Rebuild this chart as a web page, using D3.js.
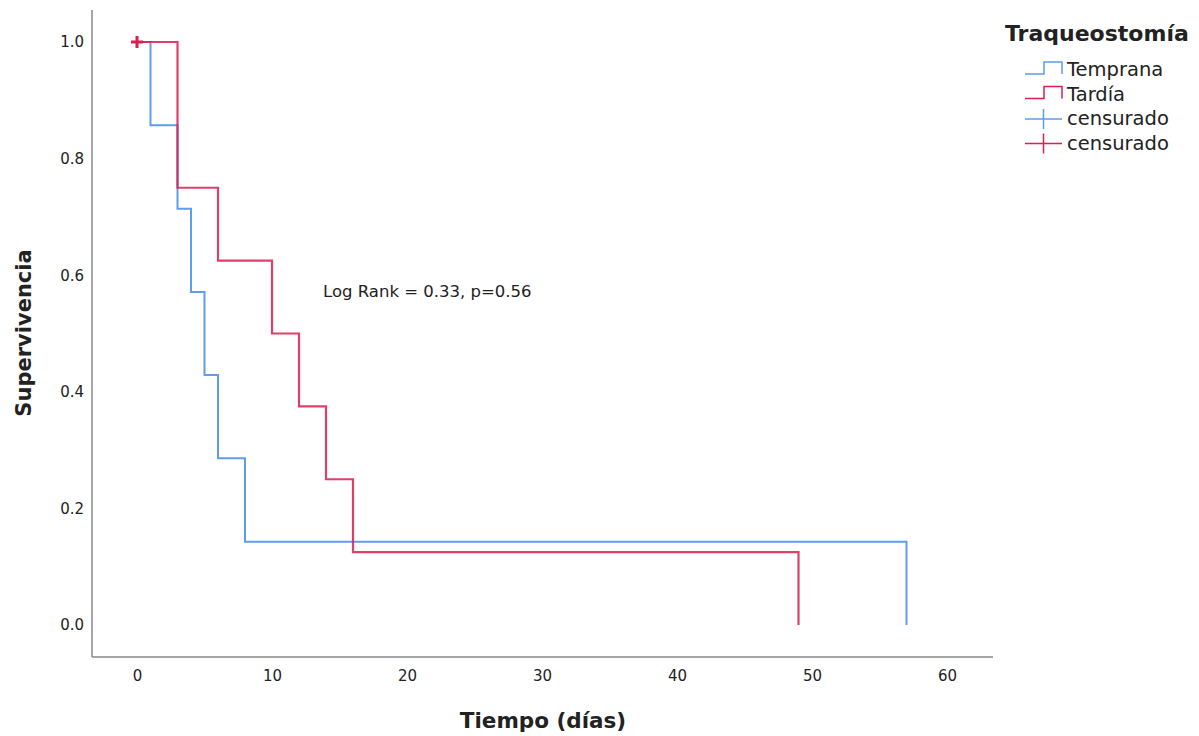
<!DOCTYPE html>
<html>
<head>
<meta charset="utf-8">
<script src="https://cdn.jsdelivr.net/npm/d3@7"></script>
<style>
  body { margin: 0; background: #fff; }
  text { font-family: "DejaVu Sans", sans-serif; fill: #222; }
</style>
</head>
<body>
<svg id="chart" width="1199" height="736"></svg>
<script>
// Kaplan-Meier steps (time in days, survival)
var tempranaTimes = [0, 1, 3, 4, 5, 6, 8, 57];
var tempranaSurv  = [1.0, 0.857, 0.714, 0.571, 0.429, 0.286, 0.143, 0.0];
var tardiaTimes = [0, 3, 6, 10, 12, 14, 16, 49];
var tardiaSurv  = [1.0, 0.75, 0.625, 0.5, 0.375, 0.25, 0.125, 0.0];
var tardiaCensored = [[0, 1.0]];
var xTicks = [0, 10, 20, 30, 40, 50, 60];
var yTicks = [0.0, 0.2, 0.4, 0.6, 0.8, 1.0];
var legendLabels = ["Temprana", "Tardía", "censurado", "censurado"];

var blue = "#5e9ded", red = "#d91f50";

const svg = d3.select("#chart");

const x = d3.scaleLinear().domain([0, 60]).range([137, 947]);
const y = d3.scaleLinear().domain([0, 1]).range([625, 42]);

// frame lines (left & bottom)
svg.append("line").attr("x1", 92).attr("x2", 92).attr("y1", 10).attr("y2", 657)
   .attr("stroke", "#888").attr("stroke-width", 1.5);
svg.append("line").attr("x1", 92).attr("x2", 993).attr("y1", 657).attr("y2", 657)
   .attr("stroke", "#888").attr("stroke-width", 1.5);

// axes without tick marks
const xAxis = d3.axisBottom(x).tickValues(xTicks).tickSize(0).tickPadding(13)
                .tickFormat(d3.format("d"));
const gx = svg.append("g").attr("transform", "translate(0,657)").call(xAxis);
gx.select(".domain").remove();

const yAxis = d3.axisLeft(y).tickValues(yTicks).tickSize(0).tickPadding(0)
                .tickFormat(d3.format(".1f"));
const gy = svg.append("g").attr("transform", "translate(84,0)").call(yAxis);
gy.select(".domain").remove();

svg.selectAll(".tick text")
   .style("font-family", "DejaVu Sans, sans-serif")
   .style("font-size", "15px").attr("fill", "#222");

function kmPath(times, surv) {
  var pts = [];
  for (var i = 0; i < times.length; i++) {
    if (i > 0) pts.push([times[i], surv[i - 1]]);
    pts.push([times[i], surv[i]]);
  }
  return pts;
}

const line = d3.line().x(d => x(d[0])).y(d => y(d[1]));

svg.append("path").datum(kmPath(tempranaTimes, tempranaSurv))
   .attr("d", line).attr("fill", "none").attr("stroke", blue).attr("stroke-width", 2);
svg.append("path").datum(kmPath(tardiaTimes, tardiaSurv))
   .attr("d", line).attr("fill", "none").attr("stroke", red).attr("stroke-width", 2.2)
   .attr("stroke-opacity", 0.85);

// censored marks
svg.selectAll(".cens").data(tardiaCensored).enter().append("path")
   .attr("class", "cens")
   .attr("d", d => "M" + (x(d[0]) - 6) + "," + y(d[1]) + "h12M" + x(d[0]) + "," + (y(d[1]) - 6) + "v12")
   .attr("stroke", red).attr("stroke-width", 3);

// annotation
svg.append("text").attr("x", 323).attr("y", 297)
   .style("font-size", "16.5px").text("Log Rank = 0.33, p=0.56");

// axis titles
svg.append("text").attr("x", 543).attr("y", 728).attr("text-anchor", "middle")
   .style("font-size", "21.5px").style("font-weight", "bold").text("Tiempo (días)");
svg.append("text").attr("transform", "translate(31,333) rotate(-90)").attr("text-anchor", "middle")
   .style("font-size", "21px").style("font-weight", "bold").text("Supervivencia");

// legend
const lg = svg.append("g");
lg.append("text").attr("x", 1005).attr("y", 41)
  .style("font-size", "22px").style("font-weight", "bold").text("Traqueostomía");
var legendColors = [blue, red, blue, red];
legendLabels.forEach(function(lab, i) {
  var cy = 70 + i * 24.5;
  if (i < 2) {
    lg.append("path").attr("d", "M1025," + (cy + 4) + "h19v-12h18v12")
      .attr("fill", "none").attr("stroke", legendColors[i]).attr("stroke-width", 1.5);
  } else {
    lg.append("path").attr("d", "M1025," + cy + "h37M1043.5," + (cy - 10) + "v20")
      .attr("fill", "none").attr("stroke", legendColors[i]).attr("stroke-width", 1.5);
  }
  lg.append("text").attr("x", 1067).attr("y", cy + 6)
    .style("font-size", "19.5px").text(lab);
});
</script>
</body>
</html>
